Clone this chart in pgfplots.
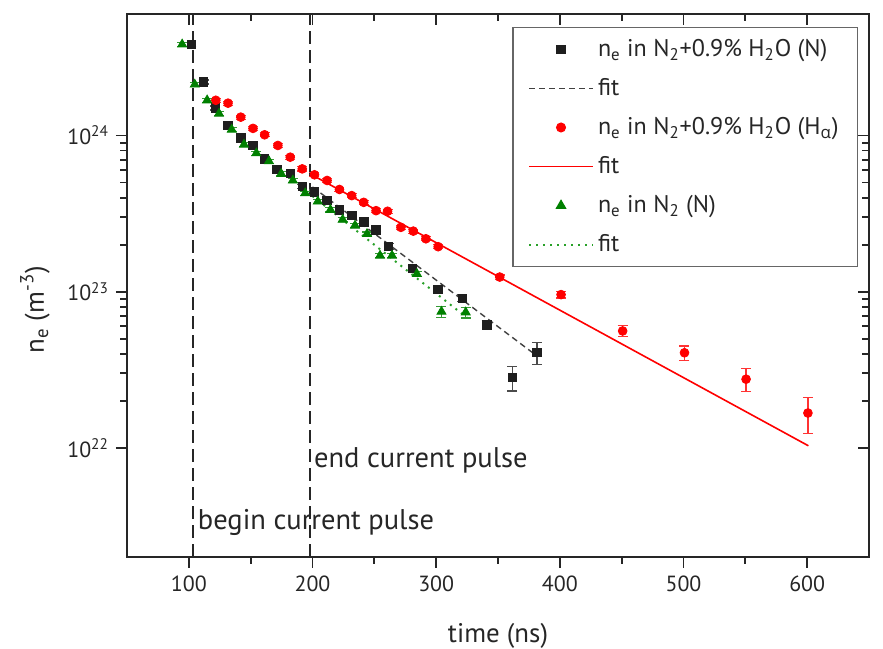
\documentclass[border=0pt]{standalone}
\usepackage{fontspec}
\setmainfont{PT Sans}
\newfontfamily\grk{Open Sans}
\usepackage{pgfplots}
\usepackage{pgfplotstable}
\pgfplotsset{compat=1.18}
\definecolor{mblack}{RGB}{30,30,30}
\definecolor{mred}{RGB}{255,0,0}
\definecolor{mgreen}{RGB}{0,128,0}
\definecolor{lgreen}{RGB}{40,160,40}

\pgfplotstableread{
x y e
102 3.83e24 0.03
112 2.20e24 0.03
121.5 1.50e24 0.03
131.7 1.16e24 0.03
142 9.67e23 0.03
151.9 8.67e23 0.03
161.3 7.08e23 0.03
171.2 6.05e23 0.03
182 5.73e23 0.03
191.7 4.73e23 0.03
201.6 4.34e23 0.03
211.8 3.83e23 0.03
221.8 3.34e23 0.03
231.7 3.07e23 0.03
241.4 2.80e23 0.03
251.4 2.49e23 0.03
261.5 1.95e23 0.04
281 1.41e23 0.04
301.4 1.03e23 0.04
321.2 9.06e22 0.05
340.9 6.14e22 0.06
361.5 2.82e22 0.18
381.5 4.08e22 0.16
}\blackdata

\pgfplotstableread{
x y e
121.8 1.68e24 0.03
131.7 1.61e24 0.03
142 1.31e24 0.03
151.9 1.11e24 0.03
161.3 1.01e24 0.03
172 8.63e23 0.03
182 7.26e23 0.03
191.7 6.11e23 0.03
201.6 5.60e23 0.03
211.8 5.15e23 0.03
221.8 4.51e23 0.03
231.7 4.12e23 0.03
241.4 3.73e23 0.03
251.4 3.30e23 0.03
260.7 3.27e23 0.03
271.5 2.58e23 0.03
281.5 2.44e23 0.03
291.7 2.18e23 0.03
301.6 1.94e23 0.03
351.4 1.24e23 0.03
401 9.57e22 0.05
450.8 5.60e22 0.08
500.8 4.06e22 0.106
550.6 2.75e22 0.17
600.6 1.67e22 0.26
}\reddata

\pgfplotstableread{
x y e
94.6 3.83e24 0.03
104.8 2.12e24 0.03
114.8 1.68e24 0.03
124.4 1.38e24 0.03
134.7 1.09e24 0.03
144.6 8.75e23 0.03
154.6 7.70e23 0.03
164.8 6.84e23 0.03
174.7 5.68e23 0.03
184.1 5.15e23 0.03
194.1 4.27e23 0.03
204.3 3.78e23 0.03
214.5 3.34e23 0.03
224.4 2.89e23 0.03
234.4 2.65e23 0.03
244.1 2.34e23 0.03
254.6 1.70e23 0.03
264.3 1.70e23 0.03
284.4 1.30e23 0.04
304.3 7.45e22 0.08
323.9 7.37e22 0.08
}\greendata

\begin{document}
\begin{tikzpicture}
\begin{axis}[
  scale only axis, width=371bp, height=271.5bp,
  xmin=50, xmax=650, ymode=log, ymin=2e21, ymax=6e24,
  axis line style={line width=1bp, black!85},
  major tick length=5.5bp, minor tick length=3.3bp,
  every tick/.style={line width=0.9bp, black!85},
  xtick={100,200,300,400,500,600}, minor x tick num=1,
  ytick={1e22,1e23,1e24},
  tick align=inside, xtick pos=right, ytick pos=right,
  xticklabels={}, yticklabels={}]
\addplot[draw=none, forget plot] coordinates {(100,1e23) (200,1e23)};
\end{axis}
\begin{axis}[
  scale only axis, width=371bp, height=271.5bp,
  xmin=50, xmax=650, ymode=log, ymin=2e21, ymax=6e24,
  axis line style={line width=1bp, black!85},
  major tick length=5.5bp, minor tick length=3.3bp,
  every tick/.style={line width=0.9bp, black!85},
  xtick={100,200,300,400,500,600}, minor x tick num=1,
  ytick={1e22,1e23,1e24},
  tick align=outside, xtick pos=left, ytick pos=left,
  xticklabels={100,200,300,400,500,600},
  yticklabels={10\textsuperscript{22},10\textsuperscript{23},10\textsuperscript{24}},
  ticklabel style={font=\fontsize{11}{13}\selectfont, black!85},
  xticklabel style={yshift=-0.5bp},
  xlabel={time (ns)}, ylabel={n\textsubscript{e} (m\textsuperscript{-3})},
  label style={font=\fontsize{13.5}{16}\selectfont, black!85},
  xlabel style={at={(axis description cs:0.5,-0.146)},anchor=center},
  ylabel style={at={(axis description cs:-0.124,0.455)},anchor=center},
  legend style={at={(0.9856,0.9766)}, anchor=north east, draw=black!60,
    line width=0.6bp, font=\fontsize{12.1}{14}\selectfont, row sep=5.5bp,
    inner xsep=7.5bp, inner ysep=4bp, cells={anchor=west}, text=black!85},
  legend image code/.code={\draw[mark repeat=2,mark phase=2] plot coordinates {(0bp,0bp) (16bp,0bp) (32bp,0bp)};},
]
\coordinate (SW) at (rel axis cs:0,0);
\coordinate (NE) at (rel axis cs:1,1);
\addplot[forget plot, black!85, line width=1bp, dash pattern=on 6.5bp off 3bp] coordinates {(103,2e21) (103,6e24)};
\addplot[forget plot, black!85, line width=1bp, dash pattern=on 6.5bp off 3bp] coordinates {(198,2e21) (198,6e24)};

\addplot[only marks, mark=square*, mark size=2.1bp, color=mblack,
  error bars/.cd, y dir=both, y explicit relative, error bar style={line width=0.6bp, mblack!80}, error mark options={rotate=90, mark size=2.5bp, line width=0.6bp, mblack!80}]
  table[x=x, y=y, y error=e] {\blackdata};
\addlegendentry{n\textsubscript{e} in N\textsubscript{2}+0.9\% H\textsubscript{2}O (N)}
\addplot[color=mblack!85, line width=0.7bp, dash pattern=on 3bp off 2bp] coordinates {(200,4.68e23) (381,3.9e22)};
\addlegendentry{fit}

\addplot[only marks, mark=*, mark size=2.2bp, color=mred,
  error bars/.cd, y dir=both, y explicit relative, error bar style={line width=0.6bp, mred!80}, error mark options={rotate=90, mark size=2.5bp, line width=0.6bp, mred!80}]
  table[x=x, y=y, y error=e] {\reddata};
\addlegendentry{n\textsubscript{e} in N\textsubscript{2}+0.9\% H\textsubscript{2}O (H\textsubscript{{\grk α}})}
\addplot[color=mred, line width=0.8bp] coordinates {(198,5.68e23) (601,1.03e22)};
\addlegendentry{fit}

\addplot[only marks, mark=triangle*, mark size=2.6bp, color=mgreen,
  error bars/.cd, y dir=both, y explicit relative, error bar style={line width=0.6bp, mgreen!80}, error mark options={rotate=90, mark size=2.5bp, line width=0.6bp, mgreen!80}]
  table[x=x, y=y, y error=e] {\greendata};
\addlegendentry{n\textsubscript{e} in N\textsubscript{2} (N)}
\addplot[color=lgreen, line width=1bp, dash pattern=on 1bp off 2.5bp] coordinates {(200,4.09e23) (325,6.8e22)};
\addlegendentry{fit}

\node[anchor=west, font=\fontsize{14.3}{16}\selectfont, inner sep=0, text=black!85] at (axis cs:201,8.26e21) {end current pulse};
\node[anchor=west, font=\fontsize{14.3}{16}\selectfont, inner sep=0, text=black!85] at (axis cs:107,3.32e21) {begin current pulse};
\end{axis}
\pgfresetboundingbox
\path[use as bounding box] ([shift={(-63.5bp,-46bp)}]SW) rectangle ([shift={(7bp,7bp)}]NE);
\end{tikzpicture}
\end{document}
